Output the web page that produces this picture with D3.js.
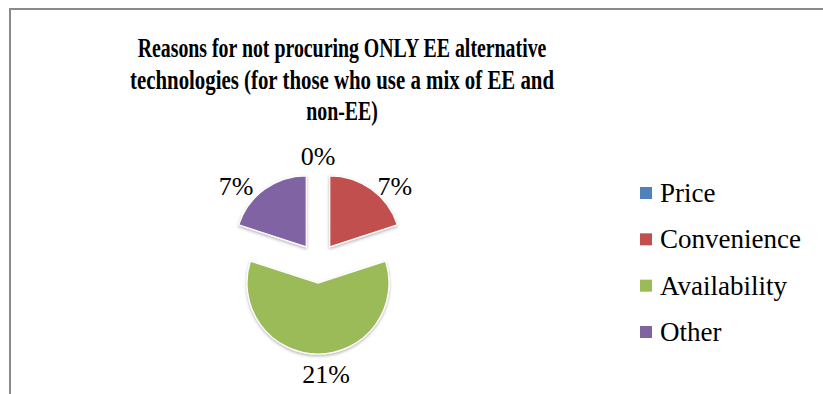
<!DOCTYPE html>
<html>
<head>
<meta charset="utf-8">
<script src="https://cdn.jsdelivr.net/npm/d3@7"></script>
<style>
  html, body { margin: 0; padding: 0; background: #fff; }
  svg { display: block; }
</style>
</head>
<body>
<svg id="chart" width="823" height="394"></svg>
<script>
// Survey answers: reasons for not procuring only EE technologies
const categories = ["Price", "Convenience", "Availability", "Other"];
const counts = [0, 7, 21, 7];
const valueLabels = ["0%", "7%", "21%", "7%"];
const colors = ["#4F81BD", "#C0504D", "#9BBB59", "#8064A2"];
const titleLines = [
  "Reasons for not procuring ONLY EE alternative",
  "technologies (for those who use a mix of EE and",
  "non-EE)"
];

const W = 823, H = 394;
const svg = d3.select("#chart");
const serif = "'Liberation Serif', 'Times New Roman', serif";

// soft shadow under the slices
const defs = svg.append("defs");
const f = defs.append("filter").attr("id", "shadow")
  .attr("x", "-20%").attr("y", "-20%").attr("width", "140%").attr("height", "140%");
f.append("feDropShadow").attr("dx", 0).attr("dy", 1.5)
  .attr("stdDeviation", 1.5).attr("flood-color", "#000").attr("flood-opacity", 0.3);

// chart frame (right and bottom edges fall outside the view)
svg.append("rect")
  .attr("x", 10).attr("y", 9).attr("width", W + 50).attr("height", H + 50)
  .attr("fill", "none").attr("stroke", "#8a8a8a").attr("stroke-width", 2);

// title: bold serif, narrowed horizontally so the first line spans 409px
const titleX = 342;
const titleBaselines = [57, 89, 120];
const titleG = svg.append("g");
const titleText = titleG.selectAll("text")
  .data(titleLines)
  .join("text")
  .attr("x", 0)
  .attr("y", (d, i) => titleBaselines[i])
  .attr("text-anchor", "middle")
  .attr("font-family", serif)
  .attr("font-weight", "bold")
  .attr("font-size", 28)
  .attr("fill", "#000")
  .text(d => d);
const firstWidth = titleText.node().getComputedTextLength();
const squeeze = 409 / firstWidth;
titleG.attr("transform", `translate(${titleX},0) scale(${squeeze},1)`);
// second line runs a little wider than the first
titleText.filter((d, i) => i === 1)
  .attr("textLength", 424 / squeeze)
  .attr("lengthAdjust", "spacingAndGlyphs");

// exploded pie
const cx = 318, cy = 263, radius = 71, explode = 20;
const pie = d3.pie().sort(null).value(d => d).startAngle(0).endAngle(2 * Math.PI);
const arcs = pie(counts);
const arc = d3.arc().innerRadius(0).outerRadius(radius);

const pieG = svg.append("g").attr("transform", `translate(${cx},${cy})`);

const slices = pieG.selectAll("g.slice")
  .data(arcs)
  .join("g")
  .attr("class", "slice")
  .attr("transform", d => {
    const a = (d.startAngle + d.endAngle) / 2;
    return `translate(${explode * Math.sin(a)},${-explode * Math.cos(a)})`;
  });

slices.filter(d => d.value > 0)
  .append("path")
  .attr("d", arc)
  .attr("fill", d => colors[d.index])
  .attr("stroke", "#fff")
  .attr("stroke-width", 1.2)
  .attr("filter", "url(#shadow)");

// value labels placed just beyond each slice's outer edge
const gap = 7;
pieG.selectAll("text.val")
  .data(arcs)
  .join("text")
  .attr("class", "val")
  .each(function (d) {
    const a = (d.startAngle + d.endAngle) / 2;
    const sx = Math.sin(a), sy = -Math.cos(a);
    const px = explode * sx + (radius + gap) * sx;
    const py = explode * sy + (radius + gap) * sy;
    let anchor = "middle", y = py + 3, x = px;
    if (Math.abs(sx) < 0.15) {
      if (sy < 0) { y = py - 9; } else { y = py + 13; x = px + 8; }
    } else if (sx > 0) {
      anchor = "start"; x = px + 2;
    } else {
      anchor = "end"; x = px - 7;
    }
    d3.select(this).attr("x", x).attr("y", y)
      .attr("text-anchor", anchor)
      .attr("dominant-baseline", "central");
  })
  .attr("font-family", serif)
  .attr("font-size", 26)
  .attr("fill", "#000")
  .text((d, i) => valueLabels[i]);

// legend
const legendY = d3.scalePoint().domain(categories).range([193, 332]);
const legend = svg.append("g").selectAll("g")
  .data(categories)
  .join("g")
  .attr("transform", d => `translate(640,${legendY(d)})`);
legend.append("rect")
  .attr("x", 0).attr("y", -6).attr("width", 12).attr("height", 12)
  .attr("fill", (d, i) => colors[i]);
legend.append("text")
  .attr("x", 20).attr("y", 9)
  .attr("font-family", serif)
  .attr("font-size", 27)
  .attr("fill", "#000")
  .text(d => d);
</script>
</body>
</html>
